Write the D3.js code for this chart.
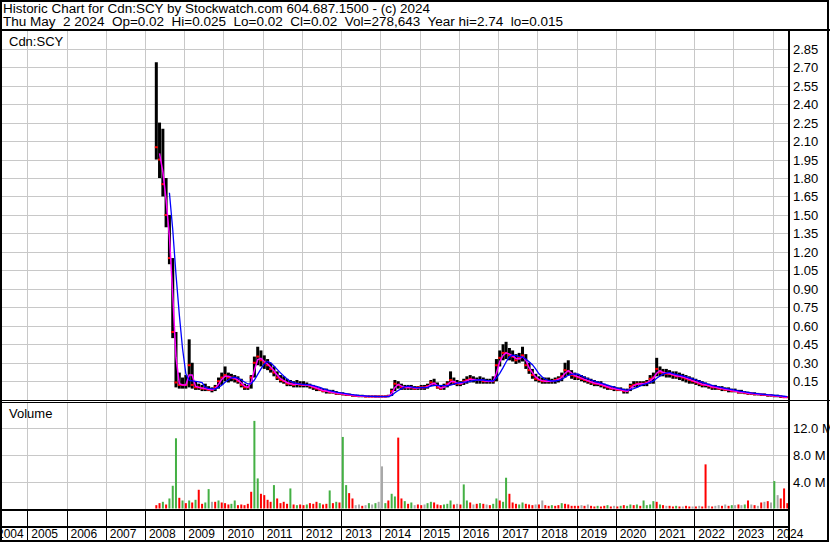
<!DOCTYPE html>
<html>
<head>
<meta charset="utf-8">
<script src="https://cdn.jsdelivr.net/npm/d3@7"></script>
<style>
  body { margin: 0; background: #fff; }
  svg { display: block; font-family: Arial, "Liberation Sans", sans-serif; }
  .pre { white-space: pre; }
</style>
</head>
<body>
<svg id="chart" width="830" height="543"></svg>
<script>
const title1 = "Historic Chart for Cdn:SCY by Stockwatch.com 604.687.1500 - (c) 2024";
const title2 = "Thu May  2 2024  Op=0.02  Hi=0.025  Lo=0.02  Cl=0.02  Vol=278,643  Year hi=2.74  lo=0.015";
const symbol = "Cdn:SCY";

const years = d3.range(2004, 2025);
const priceTicks = [0.15, 0.30, 0.45, 0.60, 0.75, 0.90, 1.05, 1.20, 1.35, 1.50, 1.65, 1.80, 1.95, 2.10, 2.25, 2.40, 2.55, 2.70, 2.85];
const volTicks = [4e6, 8e6, 12e6];

// monthly bars, Apr 2008 .. May 2024
const hi = [
  2.74, 2.25, 2.20, 1.80, 1.50, 1.15, 0.55, 0.22, 0.18,
  0.20, 0.49, 0.30, 0.15, 0.13, 0.12, 0.13, 0.11, 0.10, 0.12, 0.18, 0.22,
  0.27, 0.22, 0.21, 0.20, 0.19, 0.17, 0.13, 0.12, 0.20, 0.35, 0.43, 0.40,
  0.36, 0.33, 0.30, 0.27, 0.23, 0.20, 0.19, 0.17, 0.16, 0.15, 0.16, 0.15,
  0.15, 0.14, 0.13, 0.12, 0.11, 0.10, 0.09, 0.09, 0.08, 0.08, 0.07, 0.06,
  0.06, 0.05, 0.05, 0.045, 0.04, 0.04, 0.04, 0.035, 0.035, 0.035, 0.035, 0.035,
  0.035, 0.035, 0.04, 0.09, 0.16, 0.15, 0.13, 0.12, 0.12, 0.12, 0.11, 0.11,
  0.12, 0.12, 0.13, 0.16, 0.17, 0.14, 0.12, 0.13, 0.15, 0.23, 0.18, 0.16,
  0.15, 0.17, 0.19, 0.20, 0.19, 0.18, 0.19, 0.18, 0.17, 0.17, 0.19, 0.33,
  0.40, 0.45, 0.47, 0.42, 0.40, 0.37, 0.38, 0.43, 0.37, 0.30, 0.25, 0.21,
  0.19, 0.18, 0.18, 0.18, 0.17, 0.18, 0.19, 0.22, 0.30, 0.32, 0.24, 0.22,
  0.21, 0.20, 0.19, 0.18, 0.17, 0.16, 0.15, 0.15, 0.13, 0.12, 0.11, 0.11,
  0.10, 0.10, 0.09, 0.09, 0.13, 0.15, 0.15, 0.15, 0.15, 0.16, 0.20, 0.22,
  0.34, 0.27, 0.25, 0.25, 0.24, 0.23, 0.23, 0.22, 0.21, 0.20, 0.19, 0.18,
  0.17, 0.16, 0.15, 0.14, 0.13, 0.12, 0.12, 0.11, 0.11, 0.10, 0.10, 0.09,
  0.09, 0.08, 0.08, 0.07, 0.065, 0.06, 0.06, 0.055, 0.05, 0.05, 0.045, 0.045,
  0.04, 0.04, 0.035, 0.03, 0.025
];
const lo = [
  1.95, 1.80, 1.65, 1.40, 1.10, 0.50, 0.10, 0.09, 0.09,
  0.09, 0.10, 0.09, 0.08, 0.08, 0.07, 0.07, 0.07, 0.06, 0.07, 0.09, 0.12,
  0.15, 0.14, 0.15, 0.14, 0.13, 0.10, 0.08, 0.08, 0.09, 0.18, 0.28, 0.27,
  0.25, 0.24, 0.22, 0.19, 0.16, 0.14, 0.13, 0.11, 0.11, 0.10, 0.10, 0.10,
  0.10, 0.10, 0.09, 0.08, 0.07, 0.07, 0.06, 0.05, 0.05, 0.05, 0.04, 0.04,
  0.035, 0.03, 0.03, 0.025, 0.025, 0.02, 0.02, 0.02, 0.02, 0.02, 0.02, 0.02,
  0.02, 0.02, 0.02, 0.03, 0.07, 0.09, 0.08, 0.08, 0.08, 0.08, 0.08, 0.08,
  0.08, 0.08, 0.09, 0.11, 0.11, 0.09, 0.08, 0.08, 0.10, 0.12, 0.12, 0.11,
  0.11, 0.12, 0.13, 0.14, 0.14, 0.13, 0.13, 0.13, 0.13, 0.13, 0.13, 0.15,
  0.27, 0.32, 0.33, 0.32, 0.31, 0.29, 0.30, 0.31, 0.25, 0.21, 0.17, 0.15,
  0.14, 0.13, 0.13, 0.13, 0.13, 0.13, 0.14, 0.15, 0.18, 0.20, 0.17, 0.16,
  0.16, 0.15, 0.14, 0.13, 0.12, 0.11, 0.11, 0.10, 0.09, 0.08, 0.08, 0.07,
  0.07, 0.07, 0.05, 0.05, 0.07, 0.10, 0.10, 0.11, 0.11, 0.11, 0.13, 0.13,
  0.19, 0.19, 0.19, 0.18, 0.18, 0.17, 0.17, 0.16, 0.15, 0.14, 0.13, 0.13,
  0.12, 0.11, 0.10, 0.10, 0.09, 0.08, 0.08, 0.08, 0.07, 0.07, 0.06, 0.06,
  0.06, 0.05, 0.05, 0.045, 0.04, 0.04, 0.035, 0.035, 0.03, 0.03, 0.025, 0.025,
  0.02, 0.02, 0.015, 0.015, 0.02
];
const close = [
  2.05, 1.95, 1.75, 1.50, 1.15, 0.55, 0.14, 0.12, 0.12,
  0.12, 0.28, 0.12, 0.10, 0.10, 0.09, 0.09, 0.08, 0.08, 0.10, 0.15, 0.18,
  0.20, 0.18, 0.18, 0.17, 0.15, 0.12, 0.10, 0.10, 0.18, 0.30, 0.35, 0.32,
  0.30, 0.28, 0.25, 0.22, 0.18, 0.16, 0.15, 0.13, 0.13, 0.12, 0.13, 0.12,
  0.12, 0.12, 0.11, 0.10, 0.09, 0.08, 0.07, 0.07, 0.06, 0.06, 0.05, 0.05,
  0.045, 0.04, 0.04, 0.035, 0.03, 0.03, 0.03, 0.025, 0.025, 0.025, 0.025, 0.025,
  0.025, 0.025, 0.03, 0.07, 0.13, 0.12, 0.10, 0.10, 0.10, 0.10, 0.09, 0.10,
  0.10, 0.10, 0.11, 0.14, 0.13, 0.10, 0.09, 0.11, 0.13, 0.16, 0.14, 0.13,
  0.13, 0.15, 0.16, 0.17, 0.16, 0.16, 0.16, 0.15, 0.15, 0.15, 0.15, 0.28,
  0.34, 0.38, 0.38, 0.36, 0.35, 0.32, 0.34, 0.36, 0.28, 0.24, 0.20, 0.17,
  0.16, 0.15, 0.15, 0.15, 0.15, 0.16, 0.17, 0.19, 0.24, 0.23, 0.20, 0.19,
  0.18, 0.17, 0.16, 0.15, 0.14, 0.13, 0.13, 0.12, 0.11, 0.10, 0.09, 0.09,
  0.08, 0.08, 0.07, 0.07, 0.11, 0.12, 0.13, 0.13, 0.13, 0.14, 0.17, 0.18,
  0.25, 0.22, 0.22, 0.21, 0.21, 0.20, 0.19, 0.19, 0.18, 0.17, 0.16, 0.15,
  0.14, 0.13, 0.12, 0.12, 0.11, 0.10, 0.10, 0.09, 0.09, 0.08, 0.08, 0.07,
  0.07, 0.06, 0.06, 0.055, 0.05, 0.05, 0.045, 0.045, 0.04, 0.04, 0.035, 0.035,
  0.03, 0.03, 0.025, 0.02, 0.02
];
// volume in millions of shares
const volume = [
  0.5, 0.8, 1.0, 0.6, 1.5, 3.4, 10.5, 1.6, 1.2,
  0.8, 1.2, 0.9, 1.3, 2.8, 0.7, 0.9, 2.9, 1.0, 1.0, 1.2, 0.9,
  0.8, 0.6, 0.7, 1.2, 0.5, 0.6, 0.5, 0.7, 2.5, 13.1, 4.5, 2.2,
  2.0, 1.3, 1.0, 3.5, 1.5, 0.8, 1.0, 0.7, 3.0, 0.6, 0.5, 0.6,
  0.5, 0.6, 0.8, 0.7, 1.0, 0.8, 0.6, 0.7, 2.7, 0.8, 1.0, 0.9,
  10.7, 3.5, 2.3, 1.5, 0.5, 0.6, 0.4, 0.5, 0.8, 0.6, 0.8, 1.0,
  6.3, 0.8, 1.2, 2.2, 1.8, 10.6, 1.5, 1.1, 0.7, 0.9, 0.5, 0.6,
  0.5, 0.6, 0.8, 1.0, 0.9, 0.6, 0.5, 0.6, 0.7, 1.2, 0.6, 0.7,
  0.6, 3.6, 1.2, 0.9, 0.6, 0.7, 0.8, 0.7, 0.6, 0.5, 0.7, 1.5,
  1.2, 1.0, 4.6, 2.2, 0.9, 0.7, 0.6, 0.9, 0.7, 0.6, 0.5, 0.6,
  0.6, 1.2, 0.5, 0.4, 0.5, 0.4, 0.5, 0.8, 0.7, 0.6, 0.4, 0.4,
  0.4, 0.5, 0.4, 0.6, 0.4, 0.3, 0.4, 0.3, 0.4, 0.5, 0.3, 0.4,
  0.3, 0.4, 0.5, 0.4, 0.6, 0.5, 0.6, 0.4, 1.2, 0.5, 0.6, 1.1,
  1.0, 0.6, 0.5, 0.4, 0.4, 0.3, 0.4, 0.3, 0.3, 0.4, 0.3, 0.3,
  0.3, 0.4, 0.3, 6.6, 0.4, 0.3, 0.4, 0.5, 0.4, 0.6, 0.4, 0.5,
  0.5, 0.6, 0.5, 0.6, 1.2, 0.6, 0.5, 0.4, 0.9, 1.0, 1.1, 0.9,
  4.1, 2.0, 1.5, 3.0, 0.8
];
// g = up, r = down, n = unchanged
const volDir = [
  "rrgrgggrg",
  "rgrgrrggnrgr", "rrggrrrrrggr", "rrrgrrrrgrgr", "rgrrrgrrgrgr",
  "ggrrnnrngngn", "ngrggrrgrgnr", "rnggrrrgggrn", "rggrnrgrnrgg",
  "rggrrrggrrrn", "rnrrgrrgrrrr", "rnrnrrgrrgrn", "rgrggrgrgggg",
  "rgrnrrgrnrrn", "rnrrnrnnrnrg", "nrngrnrnrnrn",
  "gnrrr"
].join("").split("");

const W = 830, H = 543;
const plotL = 2, plotR = 789;
const priceTop = 31, priceBot = 400;
const volTop = 402, volBot = 510;

const svg = d3.select("#chart");

const x = d3.scaleTime()
  .domain([new Date(2005, 0, 1), new Date(2024, 0, 1)])
  .range([27.3, 772.7]);
const y = d3.scaleLinear().domain([0, 2.85]).range([399.7, 48.7]);
const yv = d3.scaleLinear().domain([0, 16e6]).range([508.5, 401.5]);

const months = d3.timeMonth.range(new Date(2008, 3, 1), new Date(2024, 5, 1));
const bars = months.map((m, i) => ({
  date: m,
  mid: d3.timeDay.offset(m, 15),
  hi: hi[i], lo: lo[i], close: close[i],
  vol: volume[i] * 1e6, dir: volDir[i]
}));

function movingAvg(n) {
  return bars.map((b, i) => i < n - 1 ? null
    : { date: b.mid, v: d3.mean(close.slice(i - n + 1, i + 1)) });
}
const maShort = movingAvg(2);
const maLong = movingAvg(5);

svg.append("rect").attr("width", W).attr("height", H).attr("fill", "#fff");

const defs = svg.append("defs");
defs.append("clipPath").attr("id", "clipPrice")
  .append("rect").attr("x", plotL).attr("y", priceTop)
  .attr("width", plotR - plotL).attr("height", priceBot - priceTop);
defs.append("clipPath").attr("id", "clipVol")
  .append("rect").attr("x", plotL).attr("y", volTop)
  .attr("width", plotR - plotL).attr("height", volBot - volTop);

// grid
const grid = svg.append("g").attr("stroke", "#c8c8c8").attr("stroke-width", 1);
years.forEach(yr => {
  const gx = Math.round(x(new Date(yr, 0, 1))) + 0.5;
  if (gx < plotL) return;
  grid.append("line").attr("x1", gx).attr("x2", gx).attr("y1", priceTop).attr("y2", priceBot);
  grid.append("line").attr("x1", gx).attr("x2", gx).attr("y1", volTop).attr("y2", volBot);
});
priceTicks.forEach(p => {
  const gy = Math.round(y(p)) + 0.5;
  grid.append("line").attr("x1", plotL).attr("x2", plotR).attr("y1", gy).attr("y2", gy);
});
volTicks.forEach(v => {
  const gy = Math.round(yv(v)) + 0.5;
  grid.append("line").attr("x1", plotL).attr("x2", plotR).attr("y1", gy).attr("y2", gy);
});

// price bars
const price = svg.append("g").attr("clip-path", "url(#clipPrice)");
const bw = 3;
price.selectAll("rect.bar")
  .data(bars)
  .enter()
  .append("rect")
    .attr("class", "bar")
    .attr("x", d => x(d.mid) - bw / 2)
    .attr("y", d => y(d.hi))
    .attr("width", bw)
    .attr("height", d => Math.max(1, y(d.lo) - y(d.hi)))
    .attr("fill", "#000");
price.selectAll("rect.close")
  .data(bars)
  .enter()
  .append("rect")
    .attr("class", "close")
    .attr("x", d => x(d.mid) - 1.5)
    .attr("y", d => y(d.close) - 1)
    .attr("width", 3)
    .attr("height", 2)
    .attr("fill", "#ff0000");

const maLine = d3.line()
  .defined(d => d !== null)
  .x(d => x(d.date))
  .y(d => y(d.v));
price.append("path").datum(maShort)
  .attr("d", maLine).attr("fill", "none")
  .attr("stroke", "#ff00ff").attr("stroke-width", 1.5);
price.append("path").datum(maLong)
  .attr("d", maLine).attr("fill", "none")
  .attr("stroke", "#0000ff").attr("stroke-width", 1.3);

// volume bars
const dirColor = { g: "#44b044", r: "#ff0000", n: "#a8a8a8" };
svg.append("g").attr("clip-path", "url(#clipVol)")
  .selectAll("rect")
  .data(bars)
  .enter()
  .append("rect")
    .attr("x", d => x(d.mid) - 1)
    .attr("y", d => yv(d.vol))
    .attr("width", 2)
    .attr("height", d => yv(0) - yv(d.vol))
    .attr("fill", d => dirColor[d.dir]);

// frame lines
const frame = svg.append("g").attr("stroke", "#000").attr("fill", "none");
frame.append("rect").attr("x", 1).attr("y", 1).attr("width", 827).attr("height", 540).attr("stroke-width", 2);
frame.append("line").attr("x1", 0).attr("x2", W).attr("y1", 30).attr("y2", 30).attr("stroke-width", 2);
frame.append("line").attr("x1", plotR).attr("x2", plotR).attr("y1", 30).attr("y2", 542).attr("stroke-width", 2);
frame.append("line").attr("x1", 0).attr("x2", W).attr("y1", 400.5).attr("y2", 400.5);
frame.append("line").attr("x1", 0).attr("x2", plotR).attr("y1", 402.5).attr("y2", 402.5);
frame.append("line").attr("x1", 0).attr("x2", plotR).attr("y1", 510).attr("y2", 510).attr("stroke-width", 2);
frame.append("line").attr("x1", 0).attr("x2", plotR).attr("y1", 527).attr("y2", 527).attr("stroke-width", 2);
years.forEach(yr => {
  const gx = Math.round(x(new Date(yr, 0, 1))) + 0.5;
  if (gx < plotL) return;
  frame.append("line").attr("x1", gx).attr("x2", gx).attr("y1", 510).attr("y2", 541);
});

// text
const txt = svg.append("g").attr("fill", "#000").attr("font-size", 13);
txt.append("text").attr("class", "pre").attr("x", 3).attr("y", 12.5).attr("font-size", 12.5)
  .attr("textLength", 427).attr("lengthAdjust", "spacingAndGlyphs").text(title1);
txt.append("text").attr("class", "pre").attr("x", 3).attr("y", 26).attr("font-size", 12.5)
  .attr("textLength", 560).attr("lengthAdjust", "spacingAndGlyphs").text(title2);
txt.append("text").attr("x", 9).attr("y", 46).text(symbol);
txt.append("text").attr("x", 9).attr("y", 418).text("Volume");

txt.selectAll("text.pt")
  .data(priceTicks)
  .enter()
  .append("text")
    .attr("class", "pt")
    .attr("x", 793)
    .attr("y", d => y(d) + 5)
    .text(d => d3.format(".2f")(d));

txt.selectAll("text.vt")
  .data(volTicks)
  .enter()
  .append("text")
    .attr("class", "vt")
    .attr("x", 793)
    .attr("y", d => yv(d) + 5)
    .text(d => d3.format(".1f")(d / 1e6) + " M");

txt.selectAll("text.yr")
  .data(years)
  .enter()
  .append("text")
    .attr("class", "yr")
    .attr("font-size", 12)
    .attr("x", d => Math.max(-3, x(new Date(d, 0, 1)) + 4))
    .attr("y", 538)
    .text(d => d);
</script>
</body>
</html>
